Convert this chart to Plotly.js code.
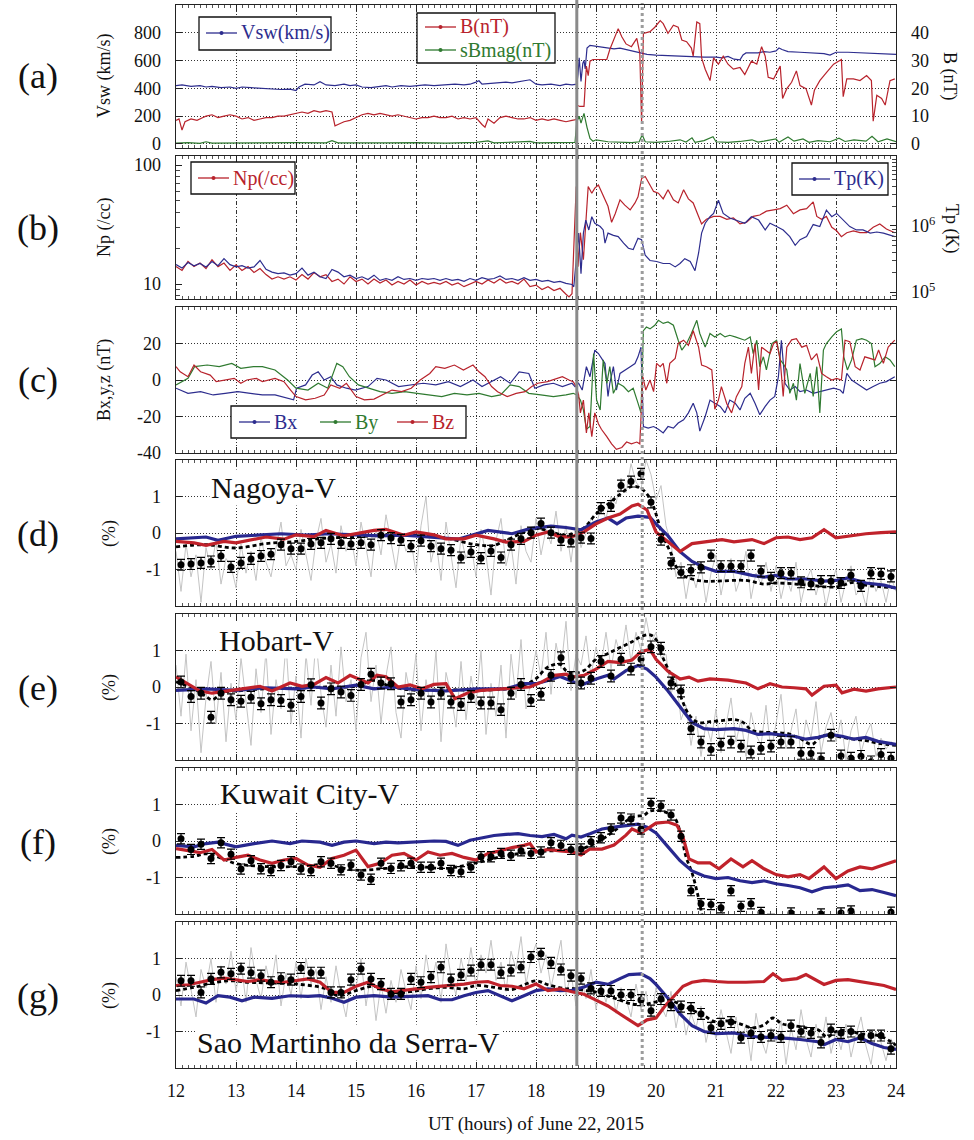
<!DOCTYPE html>
<html><head><meta charset="utf-8">
<script src="https://cdn.plot.ly/plotly-3.0.1.min.js"></script>
<style>html,body{margin:0;padding:0;background:#fff}#chart{width:974px;height:1140px}</style>
</head><body><div id="chart"></div>
<script>
// ---------------- DATA ----------------
const HOURS = [12,13,14,15,16,17,18,19,20,21,22,23,24];
const HOUR_LABELS = ['12','13','14','15','16','17','18','19','20','21','22','23','24'];
const shockTime = 18.68, secondTime = 19.77;

// Panel (a) solar wind speed (km/s), |B| (nT), sBmag (nT)
const vsw = [[12.0,420],[12.1,425],[12.25,415],[12.4,420],[12.5,410],[12.6,415],[12.75,405],[12.9,410],[13.0,400],[13.1,410],[13.25,405],[13.4,400],[13.5,402],[13.6,395],[13.75,392],[13.9,395],[14.0,385],[14.05,410],[14.15,430],[14.3,425],[14.4,448],[14.5,425],[14.65,420],[14.8,430],[14.9,420],[15.0,425],[15.1,410],[15.25,405],[15.4,415],[15.5,420],[15.6,410],[15.75,420],[15.9,415],[16.0,420],[16.15,425],[16.3,420],[16.5,425],[16.65,430],[16.8,425],[16.9,430],[17.0,445],[17.05,455],[17.1,430],[17.25,435],[17.4,440],[17.5,445],[17.6,440],[17.75,450],[17.9,462],[18.0,430],[18.1,425],[18.25,430],[18.4,420],[18.5,430],[18.6,425],[18.68,430],[18.7,500],[18.72,620],[18.75,450],[18.78,580],[18.8,600],[18.82,540],[18.85,690],[18.9,710],[19.0,705],[19.1,700],[19.2,690],[19.3,685],[19.4,690],[19.5,680],[19.6,675],[19.7,665],[19.75,655],[19.85,645],[20.0,640],[20.2,635],[20.4,632],[20.6,628],[20.8,625],[21.0,625],[21.1,620],[21.2,630],[21.3,610],[21.4,605],[21.45,640],[21.5,655],[21.7,655],[21.8,665],[21.9,660],[22.0,670],[22.05,690],[22.1,680],[22.2,665],[22.4,660],[22.6,655],[22.8,650],[22.9,640],[23.0,660],[23.2,660],[23.4,655],[23.6,650],[23.8,645],[24.0,645]];
const bMag = [[12.0,8.5],[12.05,9],[12.1,5],[12.15,8],[12.25,9],[12.35,8.5],[12.45,9.5],[12.5,10],[12.6,10.5],[12.7,9.5],[12.8,10],[12.9,10.5],[13.0,10],[13.1,9],[13.2,9.5],[13.3,8.5],[13.4,9],[13.5,9.5],[13.6,9.5],[13.7,10],[13.8,10],[13.9,10.5],[14.0,11],[14.1,11.5],[14.2,11],[14.3,12],[14.4,11.5],[14.5,12],[14.6,11.5],[14.65,6.5],[14.7,7],[14.8,8],[14.9,8.5],[15.0,9.5],[15.1,10.5],[15.2,11],[15.3,10.5],[15.4,11],[15.5,10.5],[15.6,10],[15.7,10.5],[15.8,10],[15.9,9.5],[16.0,9],[16.1,9.5],[16.2,9.5],[16.3,10],[16.4,9.5],[16.5,9.5],[16.6,10],[16.7,9],[16.8,9.5],[16.9,9],[17.0,9.5],[17.1,7],[17.15,6],[17.2,9],[17.3,7.5],[17.4,9.5],[17.5,10],[17.6,9.5],[17.7,9],[17.8,9],[17.9,9.5],[18.0,8.5],[18.1,9],[18.2,8.5],[18.3,9],[18.4,8.5],[18.5,8],[18.6,8.5],[18.67,8.8],[18.68,14],[18.73,13.5],[18.8,13.5],[18.84,28],[18.87,24.6],[18.9,29.8],[18.95,30.4],[19.05,30.5],[19.18,30.4],[19.23,34],[19.37,41.5],[19.43,38.6],[19.5,36],[19.59,35],[19.68,38],[19.73,32.7],[19.76,7.6],[19.79,39.8],[19.9,40.4],[19.98,42],[20.07,44.4],[20.12,43.3],[20.2,39.8],[20.29,42.7],[20.37,42],[20.43,37.4],[20.51,36.8],[20.59,34.5],[20.62,31.6],[20.68,43.9],[20.73,43.3],[20.76,31],[20.82,26.9],[20.9,22.8],[20.96,31],[21.04,28.7],[21.12,31.6],[21.2,28.7],[21.29,26.9],[21.4,27.5],[21.48,25],[21.59,29.8],[21.68,28.7],[21.76,35],[21.82,31.6],[21.87,24],[21.96,23.4],[22.07,28],[22.11,16.4],[22.18,19.9],[22.26,22.2],[22.34,26.3],[22.4,21],[22.5,19.9],[22.59,14],[22.64,19.3],[22.73,22.8],[22.84,25.7],[22.96,28.7],[23.09,30.4],[23.12,17],[23.18,23.4],[23.29,23.4],[23.4,22.8],[23.51,24.6],[23.59,22.8],[23.62,8.2],[23.68,17.5],[23.76,16.4],[23.82,14],[23.9,22.8],[23.98,23.4]];
const sBmag = [[12.0,0.3],[12.2,0.5],[12.4,0.2],[12.5,0.8],[12.6,0.3],[13.0,0.4],[13.5,0.3],[14.0,0.5],[14.5,0.4],[14.6,1.2],[14.7,0.4],[15.0,0.5],[15.5,0.4],[16.0,0.5],[16.5,0.3],[17.0,0.6],[17.2,1.1],[17.3,0.4],[17.5,0.5],[17.9,0.9],[18.0,0.4],[18.5,0.5],[18.65,0.6],[18.68,8],[18.72,10],[18.75,7.5],[18.8,11],[18.85,6],[18.9,2],[18.95,1.0],[19.0,1.5],[19.2,0.8],[19.4,0.6],[19.6,0.5],[19.72,0.8],[19.77,3.3],[19.82,0.8],[20.0,0.6],[20.2,0.9],[20.4,1.5],[20.5,0.7],[20.6,2.2],[20.65,0.6],[20.8,1.2],[20.95,2.6],[21.0,0.8],[21.2,0.6],[21.4,0.9],[21.6,1.5],[21.7,0.7],[21.8,1.0],[22.0,1.8],[22.05,0.6],[22.2,2.5],[22.3,1.0],[22.45,1.8],[22.55,0.6],[22.7,1.2],[22.9,0.8],[23.05,2.1],[23.15,0.9],[23.3,1.5],[23.5,1.0],[23.6,2.8],[23.7,0.8],[23.85,1.8],[24.0,0.8]];

// Panel (b) proton density (/cc) and temperature (K)
const np = [[12.0,14],[12.1,13],[12.2,15.5],[12.3,14],[12.4,15],[12.5,13.5],[12.6,16],[12.7,14],[12.8,15],[12.9,13],[13.0,14.5],[13.1,13],[13.2,14],[13.3,12.5],[13.4,13.5],[13.5,12],[13.6,11],[13.7,11.5],[13.8,11],[13.9,11.5],[14.0,10.8],[14.1,12],[14.2,11],[14.3,12.5],[14.4,11.5],[14.5,12],[14.6,10.5],[14.7,11],[14.8,10],[14.9,11.5],[15.0,10.5],[15.1,11],[15.2,10],[15.3,11],[15.4,10.2],[15.5,10.8],[15.6,9.8],[15.7,10.5],[15.8,10],[15.9,10.8],[16.0,9.8],[16.1,10.5],[16.2,10],[16.3,10.3],[16.4,10],[16.5,10.5],[16.6,9.8],[16.7,10.2],[16.8,9.5],[16.9,10],[17.0,10.5],[17.1,10],[17.2,10.8],[17.3,10.2],[17.4,11],[17.5,10.2],[17.6,10.5],[17.7,10],[17.8,11],[17.9,9.5],[18.0,9.8],[18.1,9],[18.2,9.5],[18.3,8.8],[18.4,9.2],[18.5,8.2],[18.55,7.8],[18.6,8.3],[18.65,32],[18.67,66],[18.7,14],[18.74,27],[18.79,16],[18.82,30],[18.87,66],[18.93,58],[18.98,64],[19.04,68],[19.09,60],[19.15,51],[19.2,45],[19.26,33],[19.32,39],[19.4,51],[19.48,46],[19.57,42],[19.65,48],[19.7,54],[19.76,77],[19.82,80],[19.87,72],[19.96,60],[20.04,58],[20.12,52],[20.2,62],[20.29,51],[20.37,48],[20.46,62],[20.54,52],[20.62,48],[20.71,37],[20.76,32],[20.84,35],[20.96,37],[21.07,37],[21.18,35],[21.29,36],[21.4,32],[21.51,33],[21.62,37],[21.73,38],[21.84,41],[21.96,42],[22.07,43],[22.18,46],[22.29,39],[22.4,42],[22.51,43],[22.62,49],[22.68,37],[22.76,35],[22.84,37],[22.93,30],[23.01,28],[23.09,25],[23.18,27],[23.29,28],[23.4,27],[23.51,27],[23.62,30],[23.73,32],[23.84,29],[23.98,27]];
const tp = [[12.0,2.6e5],[12.1,2.3e5],[12.2,2.8e5],[12.3,2.5e5],[12.4,2.7e5],[12.5,2.4e5],[12.6,2.9e5],[12.7,2.5e5],[12.8,3.2e5],[12.9,2.6e5],[13.0,2.4e5],[13.1,2.5e5],[13.2,2.3e5],[13.3,2.4e5],[13.4,3.0e5],[13.5,2.2e5],[13.6,2.0e5],[13.7,1.9e5],[13.8,1.95e5],[13.9,1.8e5],[14.0,1.9e5],[14.1,2.3e5],[14.2,1.8e5],[14.3,2.0e5],[14.4,1.7e5],[14.5,1.6e5],[14.6,2.2e5],[14.7,2.0e5],[14.8,1.7e5],[14.9,1.8e5],[15.0,1.6e5],[15.1,1.7e5],[15.2,1.55e5],[15.3,1.8e5],[15.4,1.5e5],[15.5,1.6e5],[15.6,1.5e5],[15.7,1.7e5],[15.8,1.55e5],[15.9,1.6e5],[16.0,1.5e5],[16.1,1.6e5],[16.2,1.55e5],[16.3,1.6e5],[16.4,1.5e5],[16.5,1.6e5],[16.6,1.5e5],[16.7,1.55e5],[16.8,1.45e5],[16.9,1.6e5],[17.0,1.5e5],[17.1,1.65e5],[17.2,1.55e5],[17.3,1.6e5],[17.4,1.75e5],[17.5,1.55e5],[17.6,1.6e5],[17.7,1.5e5],[17.8,1.65e5],[17.9,1.5e5],[18.0,1.55e5],[18.1,1.45e5],[18.2,1.5e5],[18.3,1.4e5],[18.4,1.45e5],[18.5,1.35e5],[18.6,1.3e5],[18.63,1.2e5],[18.67,3.0e5],[18.71,7.8e5],[18.75,1.9e5],[18.79,7.8e5],[18.83,1.23e6],[18.88,8.7e5],[18.93,1.38e6],[18.98,1.1e6],[19.07,9.8e5],[19.12,8.7e5],[19.15,5.5e5],[19.2,7.8e5],[19.29,7.2e5],[19.37,6.9e5],[19.46,5.5e5],[19.54,4.6e5],[19.62,4.4e5],[19.7,6.5e5],[19.76,6.2e5],[19.82,3.6e5],[19.9,3.0e5],[20.01,2.9e5],[20.12,2.7e5],[20.23,2.7e5],[20.32,2.4e5],[20.4,2.7e5],[20.48,3.2e5],[20.57,2.9e5],[20.65,2.1e5],[20.71,3.9e5],[20.76,7.8e5],[20.82,1.1e6],[20.9,1.38e6],[20.96,1.55e6],[21.04,2.45e6],[21.12,1.55e6],[21.23,1.32e6],[21.34,1.23e6],[21.48,1.1e6],[21.59,1.38e6],[21.71,1.23e6],[21.82,8.7e5],[21.9,1.1e6],[22.01,9.8e5],[22.12,8.7e5],[22.23,6.9e5],[22.32,5.1e5],[22.4,6.2e5],[22.51,6.9e5],[22.62,1.05e6],[22.73,9.8e5],[22.84,1.74e6],[22.93,1.38e6],[23.01,1.55e6],[23.12,1.23e6],[23.23,9.8e5],[23.34,8.7e5],[23.45,8.7e5],[23.57,7.8e5],[23.68,8.1e5],[23.79,7.8e5],[23.9,7.2e5],[23.98,6.9e5]];

// Panel (c) IMF components (nT)
const bx = [[12.0,-4.5],[12.2,-7.3],[12.41,-6.4],[12.62,-8.2],[12.82,-7.3],[13.03,-6.4],[13.24,-7.3],[13.44,-8.2],[13.65,-8.2],[13.86,-10],[13.96,-10.9],[14.01,-4.5],[14.16,-2.7],[14.27,2.7],[14.37,4.5],[14.47,0],[14.58,1.8],[14.68,-2.7],[14.84,-4.5],[14.99,-5.5],[15.2,-3.6],[15.35,0.9],[15.5,0],[15.71,-3.6],[15.92,-2.7],[16.12,-1.8],[16.33,-2.7],[16.54,-0.9],[16.74,-3.6],[16.95,0],[17.1,-3.6],[17.26,-0.9],[17.41,1.8],[17.57,-1.8],[17.72,4.5],[17.88,3.6],[17.98,-4.5],[18.13,-2.7],[18.29,-1.8],[18.44,-3.6],[18.6,-1.8],[18.65,-3.6],[18.71,-1.8],[18.77,-5.5],[18.84,7.3],[18.9,1.8],[18.98,16.4],[19.04,14.5],[19.09,11.8],[19.15,9],[19.2,-9],[19.23,-1.8],[19.29,7.3],[19.34,-5.5],[19.4,3.6],[19.48,5.5],[19.57,7.3],[19.65,9],[19.7,12.7],[19.75,18],[19.79,-25.5],[19.87,-26.4],[19.96,-25.5],[20.04,-27],[20.12,-29],[20.2,-25.5],[20.29,-26.4],[20.37,-23.6],[20.46,-21.8],[20.54,-18],[20.62,-12.7],[20.68,-18],[20.73,-28],[20.82,-20],[20.9,-11],[20.98,-12.7],[21.07,-14.5],[21.15,-18],[21.23,-11],[21.32,-12.7],[21.4,-16.4],[21.48,-10],[21.57,-7.3],[21.65,-12.7],[21.73,-19],[21.82,-14.5],[21.9,-11],[21.98,-9],[22.04,1.8],[22.09,21.8],[22.15,-1.8],[22.23,-5.5],[22.32,-3.6],[22.4,-6.4],[22.51,-5.5],[22.62,-7.3],[22.73,-6.4],[22.84,-5.5],[22.96,-4.5],[23.07,-5.5],[23.12,-7.3],[23.18,3.6],[23.26,0],[23.34,-1.8],[23.43,-3.6],[23.51,-5.5],[23.62,-3.6],[23.73,-1.8],[23.84,-0.9],[23.98,1.8]];
const by = [[12.0,-2.7],[12.2,0.9],[12.31,7.3],[12.52,8.2],[12.72,7.3],[12.93,9.1],[13.08,6.4],[13.29,7.3],[13.44,7.3],[13.65,5.5],[13.86,0],[14.0,-4.5],[14.2,-5.5],[14.37,-1.8],[14.53,-4.5],[14.68,9.1],[14.78,7.3],[14.89,1.8],[15.04,-2.7],[15.2,-4.5],[15.4,-6.4],[15.6,-7.3],[15.81,-6.4],[16.02,-7.3],[16.23,-8.2],[16.43,-9.1],[16.64,-7.3],[16.85,-8.2],[17.05,-7.3],[17.26,-9.1],[17.41,-8.2],[17.57,-2.7],[17.72,-3.6],[17.88,-7.3],[18.08,-8.2],[18.29,-9.1],[18.5,-8.2],[18.62,-7.3],[18.68,-8.2],[18.74,-11],[18.79,-16.4],[18.84,-27],[18.9,-25.5],[18.96,14.5],[19.01,-11],[19.07,-16.4],[19.12,11],[19.18,-1.8],[19.23,7.3],[19.29,-7.3],[19.37,-1.8],[19.46,-3.6],[19.54,-6.4],[19.62,-4.5],[19.7,-12.7],[19.75,-18],[19.79,27],[19.84,29],[19.9,28],[19.98,30],[20.04,32.7],[20.12,31],[20.2,31.8],[20.29,30],[20.37,21.8],[20.43,16.4],[20.51,20],[20.59,25.5],[20.68,32.7],[20.73,25.5],[20.82,18],[20.9,25.5],[20.98,23.6],[21.07,25.5],[21.15,23.6],[21.23,24.5],[21.32,23.6],[21.4,22.7],[21.48,21.8],[21.57,23.6],[21.62,14.5],[21.68,21.8],[21.73,7.3],[21.79,12.7],[21.84,5.5],[21.93,20],[22.01,21.8],[22.07,11],[22.12,9],[22.18,5.5],[22.23,-7.3],[22.29,-1.8],[22.34,-11],[22.4,9],[22.48,-7.3],[22.57,3.6],[22.62,-9],[22.68,7.3],[22.73,-18],[22.79,16.4],[22.84,20],[22.93,23.6],[23.01,26.4],[23.09,28],[23.13,12.7],[23.19,5.5],[23.26,11],[23.34,21.8],[23.43,22.7],[23.51,21.8],[23.59,20],[23.65,7.3],[23.73,9],[23.82,12.7],[23.9,11],[23.98,7.3]];
const bz = [[12.0,7.3],[12.07,4.5],[12.2,1.8],[12.3,8.2],[12.41,4.5],[12.57,2.7],[12.67,-0.9],[12.82,0],[12.97,0.9],[13.08,-1.8],[13.18,0],[13.34,0.9],[13.44,-0.9],[13.65,0.9],[13.8,-0.9],[13.91,-5.5],[14.0,-9.1],[14.16,-10.9],[14.32,-10],[14.47,-8.2],[14.58,-2.7],[14.73,-4.5],[14.84,-1.8],[15.0,-9.1],[15.14,-10.9],[15.3,-10.5],[15.45,-8.2],[15.6,-5.5],[15.76,-6.4],[15.92,-4.5],[16.07,0],[16.23,3.6],[16.33,7.3],[16.48,6.4],[16.64,8.2],[16.79,5.5],[16.95,8.2],[17.05,4.5],[17.15,1.8],[17.26,-3.6],[17.36,-6.4],[17.52,-9.1],[17.67,-7.3],[17.82,-6.4],[17.93,-3.6],[18.03,-1.8],[18.19,-0.9],[18.34,0.9],[18.44,1.8],[18.55,0],[18.62,-0.9],[18.67,-3.6],[18.71,-8.2],[18.74,-18],[18.79,-11],[18.84,-29],[18.88,-18],[18.93,-31],[18.98,-18],[19.04,-24],[19.09,-27],[19.18,-31],[19.26,-35],[19.34,-38],[19.43,-37],[19.51,-34],[19.59,-35],[19.68,-34],[19.73,-35],[19.78,1.8],[19.83,-5.5],[19.9,0],[19.96,-6.4],[20.01,9.1],[20.07,7.3],[20.12,9.1],[20.18,-1.8],[20.23,9.1],[20.32,11.8],[20.37,20],[20.46,21.8],[20.54,19],[20.62,27],[20.71,18],[20.76,8.2],[20.84,7.3],[20.93,5.5],[20.98,-16],[21.04,-11],[21.09,-3.6],[21.18,-13],[21.26,-18],[21.34,-9.1],[21.43,-3.6],[21.48,9.1],[21.54,18],[21.59,3.6],[21.65,20],[21.71,-5.5],[21.76,18],[21.82,16.4],[21.9,14.5],[21.96,20],[22.01,21],[22.07,11],[22.12,-9],[22.18,18],[22.26,22],[22.34,22.7],[22.43,18],[22.51,19],[22.59,11],[22.68,14.5],[22.76,3.6],[22.84,1.8],[22.93,0],[23.01,0.9],[23.09,0],[23.15,21.8],[23.23,21],[23.32,7.3],[23.4,5.5],[23.48,12.7],[23.57,11.8],[23.65,11],[23.71,16.4],[23.79,9.1],[23.87,18],[23.98,21.8]];

// Panels (d)-(g): observed 10-min points (%), 5-min raw (gray), fitted (dashed), model lines (red, blue)
const nagoyaObs = [-0.87,-0.85,-0.82,-0.78,-0.63,-0.93,-0.82,-0.71,-0.63,-0.58,-0.32,-0.43,-0.43,-0.30,-0.27,-0.16,-0.27,-0.30,-0.27,-0.32,-0.06,-0.14,-0.19,-0.36,-0.21,-0.36,-0.43,-0.47,-0.67,-0.52,-0.69,-0.49,-0.67,-0.32,-0.16,0.01,0.26,0.01,-0.19,-0.23,-0.13,-0.15,0.68,0.74,1.30,1.41,1.62,0.84,-0.18,-0.83,-1.08,-1.02,-0.94,-0.62,-0.91,-0.91,-0.91,-0.62,-1.05,-1.23,-1.10,-1.10,-1.35,-1.40,-1.32,-1.32,-1.37,-1.16,-1.45,-1.10,-1.12,-1.19];
const hobartObs = [0.14,-0.26,-0.17,-0.83,-0.17,-0.35,-0.39,-0.28,-0.46,-0.35,-0.37,-0.50,-0.26,0.06,-0.44,-0.05,-0.14,-0.23,0.07,0.35,0.11,0.09,-0.41,-0.35,-0.17,-0.41,-0.17,-0.41,-0.48,-0.26,-0.44,-0.44,-0.62,-0.17,0.07,-0.37,-0.2,0.32,0.8,0.26,0.11,0.24,0.70,0.30,0.76,0.49,0.76,1.10,1.06,0.11,-0.11,-1.14,-1.51,-1.71,-1.57,-1.51,-1.62,-1.78,-1.68,-1.62,-1.51,-1.51,-1.82,-1.82,-1.97,-1.32,-1.89,-1.95,-1.9,-2.05,-1.85,-1.95];
const kuwaitObs = [0.06,-0.23,-0.09,-0.48,-0.05,-0.36,-0.77,-0.54,-0.76,-0.81,-0.67,-0.57,-0.77,-0.81,-0.57,-0.61,-0.79,-0.66,-0.93,-1.05,-0.61,-0.75,-0.68,-0.61,-0.72,-0.72,-0.61,-0.81,-0.84,-0.72,-0.43,-0.43,-0.34,-0.39,-0.27,-0.34,-0.3,-0.05,-0.12,-0.23,-0.22,-0.02,0.09,0.33,0.63,0.60,0.33,1.03,0.96,0.71,0.13,-1.36,-1.72,-1.74,-1.83,-1.36,-1.79,-1.72,-1.96,-2.15,-2.2,-1.97,-2.3,-2.2,-2.0,-2.25,-1.97,-1.92,-2.3,-2.2,-2.25,-1.95];
const saoObs = [0.39,0.39,0.07,0.44,0.62,0.58,0.72,0.61,0.53,0.35,0.46,0.42,0.74,0.61,0.61,0.07,0.07,0.42,0.72,0.44,0.30,0.03,0.03,0.44,0.35,0.49,0.76,0.42,0.55,0.67,0.83,0.83,0.61,0.67,0.76,1.04,1.13,0.88,0.70,0.53,0.45,0.18,0.11,0.11,0.0,0.0,-0.14,-0.43,-0.11,-0.28,-0.32,-0.36,-0.52,-0.9,-0.79,-0.74,-1.17,-1.04,-1.15,-1.11,-1.15,-0.84,-1.0,-1.04,-1.3,-0.95,-1.04,-1.0,-1.15,-1.11,-1.11,-1.47];
const obsErr = {nagoya:0.15, hobart:0.16, kuwait:0.14, sao:0.15};

const nagoyaRaw = [-0.5,-1.6,-0.3,-1.2,-0.6,-1.9,-0.4,-1.0,-0.2,-1.4,-0.7,-0.9,
-1.5,-0.3,-1.1,-0.5,-1.3,-0.1,-0.8,-1.2,-0.4,0.3,-0.9,-0.6,
-1.0,0.1,-0.6,-1.3,-0.2,0.4,-0.8,-0.3,-1.1,0.2,-0.5,-0.1,
-0.9,0.3,-0.4,-1.2,0.1,-0.6,0.5,-0.3,-1.0,0.0,-0.5,-0.2,
-1.1,0.2,1.0,-0.8,-0.2,-1.3,0.3,-0.6,-1.5,-0.1,-0.7,-0.3,
-1.2,0.1,-0.6,-1.7,-0.2,0.4,-0.9,-0.3,-1.4,0.2,-0.5,-0.8,
0.4,-0.6,0.1,-0.3,0.6,-0.5,0.2,-0.8,0.3,-0.4,0.0,0.4,
0.2,0.7,0.4,1.0,0.8,1.5,1.1,1.9,1.4,1.2,2.0,1.6,
0.9,1.3,0.2,-0.3,-1.2,-0.8,-1.8,-1.0,-1.5,-0.9,-1.9,-1.1,
-0.6,-1.7,-1.0,-0.7,-1.6,-1.2,-0.5,-1.8,-1.1,-1.4,-0.8,-1.6,
-0.9,-1.8,-1.2,-1.6,-0.8,-1.9,-1.3,-1.0,-1.7,-1.2,-2.0,-1.4,
-1.0,-1.9,-1.3,-0.9,-1.7,-1.5,-2.0,-1.1,-1.6,-1.3,-1.9,-1.2,-1.6];
const hobartRaw = [0.6,-0.8,0.9,-1.2,0.2,-1.8,-0.3,0.7,-1.0,0.4,-1.5,0.1,
-0.9,0.8,-0.4,-1.6,0.5,-0.7,1.0,-1.3,0.2,-0.6,1.2,-1.0,
0.3,-1.4,0.9,-0.5,1.3,-0.2,-1.1,0.6,-0.8,1.1,-0.4,0.2,
-1.2,0.8,1.5,-0.4,0.6,-1.0,0.3,1.1,-0.7,-1.4,0.4,-0.3,
0.9,-1.2,0.2,-0.6,1.0,-1.5,0.4,-0.2,-1.1,0.7,-0.9,0.3,
-0.5,1.0,-1.3,0.1,-0.8,0.6,-1.4,0.9,-0.3,1.3,-0.6,0.2,
1.0,0.3,1.5,-0.2,1.2,0.5,1.8,-0.1,0.9,0.6,1.4,0.3,
1.1,0.6,1.5,0.5,1.3,0.8,1.7,0.7,1.5,1.0,1.9,1.2,
1.5,0.8,0.9,-0.2,0.3,-0.9,-0.5,-1.6,-0.8,-1.9,-1.0,-1.5,
-0.6,-1.8,-1.1,-0.3,-1.5,-0.9,-1.9,-0.7,-1.3,-1.6,-0.5,-1.8,
-1.0,-0.2,-1.7,-1.2,-0.6,-1.9,-0.9,-1.4,-0.4,-1.8,-1.1,-0.7,
-1.5,-0.9,-2.0,-1.2,-0.8,-1.8,-1.3,-1.0,-1.9,-1.4,-1.7,-1.5,-1.6];
const saoRaw = [0.5,-0.3,0.9,0.1,-0.6,0.7,0.2,1.0,-0.2,0.8,0.3,1.2,
0.1,0.9,-0.2,1.3,0.4,-0.1,0.8,0.2,1.1,-0.3,0.6,0.0,
0.9,-0.1,1.0,0.3,0.7,-0.4,0.5,-0.2,0.8,0.0,-0.6,0.4,
0.2,1.0,-0.3,0.6,-0.7,0.3,-0.5,0.4,-0.2,0.7,0.1,-0.4,
0.8,-0.1,1.1,0.3,0.9,-0.2,1.4,0.5,0.0,1.0,0.4,1.3,
0.2,1.1,0.6,1.5,0.4,0.9,0.1,1.2,0.7,1.6,0.3,1.0,
1.4,0.6,1.1,0.2,0.9,1.5,0.0,0.6,-0.3,0.5,-0.1,0.7,
-0.4,0.3,-0.2,0.4,-0.5,0.2,-0.1,-0.6,0.3,-0.4,0.1,-0.7,
0.2,-0.3,-0.6,0.1,-0.9,-0.2,-1.1,-0.5,-0.9,-0.3,-1.3,-0.7,
-1.2,-0.4,-1.0,-1.6,-0.6,-1.3,-0.8,-1.8,-0.5,-1.2,-1.6,-0.9,
-1.3,-0.7,-1.9,-0.9,-1.5,-0.4,-1.2,-1.7,-0.8,-1.4,-0.6,-1.6,
-1.0,-1.5,-0.8,-1.7,-1.1,-0.6,-1.4,-1.9,-1.0,-1.3,-1.8,-1.2,-1.5];

const nagoyaFit = [[12.0,-0.38],[12.5,-0.32],[13.0,-0.41],[13.5,-0.29],[14.0,-0.23],[14.5,-0.14],[15.0,-0.11],[15.5,-0.05],[16.0,-0.06],[16.5,-0.14],[17.0,-0.32],[17.3,-0.34],[17.5,-0.2],[18.0,0.12],[18.3,0.0],[18.5,-0.06],[18.6,-0.02],[18.8,0.14],[19.0,0.52],[19.2,0.79],[19.4,1.06],[19.6,1.28],[19.75,1.22],[19.9,0.95],[20.0,0.52],[20.1,-0.02],[20.25,-0.56],[20.4,-1.1],[20.6,-1.26],[20.8,-1.32],[21.0,-1.32],[21.5,-1.3],[21.8,-1.4],[22.0,-1.37],[22.5,-1.42],[23.0,-1.48],[23.3,-1.35],[23.5,-1.43],[24.0,-1.5]];
const nagoyaRed = [[12.0,-0.23],[12.3,-0.27],[12.5,-0.34],[12.8,-0.23],[13.0,-0.27],[13.3,-0.17],[13.5,-0.11],[13.8,-0.17],[14.0,-0.05],[14.3,-0.1],[14.5,0.07],[14.8,-0.08],[15.0,-0.02],[15.3,0.07],[15.5,0.1],[15.8,-0.06],[16.0,0.03],[16.3,-0.05],[16.5,-0.16],[16.8,-0.16],[17.0,-0.06],[17.3,-0.16],[17.5,-0.25],[17.8,-0.23],[18.0,-0.06],[18.2,0.03],[18.4,-0.11],[18.6,-0.1],[18.8,0.03],[19.0,0.25],[19.2,0.41],[19.4,0.52],[19.6,0.74],[19.7,0.79],[19.85,0.63],[20.0,0.03],[20.2,-0.24],[20.4,-0.51],[20.6,-0.29],[20.8,-0.24],[21.1,-0.18],[21.3,-0.24],[21.6,-0.18],[21.8,-0.29],[22.0,-0.13],[22.2,-0.11],[22.4,-0.18],[22.6,-0.13],[22.8,0.09],[23.0,-0.13],[23.2,-0.08],[23.5,-0.02],[23.75,0.01],[24.0,0.03]];
const nagoyaBlue = [[12.0,-0.16],[12.5,-0.11],[12.7,-0.2],[13.0,-0.09],[13.35,-0.06],[13.75,-0.02],[14.15,-0.06],[14.55,-0.02],[15.0,-0.05],[15.4,-0.08],[15.8,-0.06],[16.3,-0.11],[16.7,-0.17],[17.2,0.07],[17.6,-0.02],[17.9,0.12],[18.25,0.19],[18.5,0.15],[18.75,0.09],[19.0,0.3],[19.2,0.41],[19.35,0.25],[19.5,0.41],[19.7,0.46],[19.9,0.43],[20.0,0.25],[20.2,-0.08],[20.4,-0.51],[20.6,-0.78],[20.8,-0.94],[21.0,-1.05],[21.3,-1.05],[21.6,-1.16],[21.8,-1.21],[22.0,-1.16],[22.2,-1.26],[22.5,-1.26],[22.8,-1.32],[23.0,-1.3],[23.2,-1.23],[23.5,-1.37],[23.8,-1.43],[24.0,-1.51]];

const hobartFit = [[12.0,0.14],[12.3,-0.05],[12.5,-0.26],[12.6,-0.35],[12.8,-0.14],[13.0,-0.11],[13.5,-0.05],[14.0,-0.03],[14.5,0.0],[15.0,0.02],[15.3,0.18],[15.6,0.0],[16.0,-0.09],[16.5,-0.07],[17.0,-0.09],[17.5,-0.05],[17.8,0.05],[18.0,0.23],[18.2,0.55],[18.4,0.62],[18.5,0.45],[18.6,0.38],[18.8,0.45],[19.0,0.76],[19.2,0.92],[19.4,1.08],[19.6,1.24],[19.75,1.38],[19.9,1.43],[20.0,1.3],[20.1,0.86],[20.25,0.32],[20.4,-0.22],[20.55,-0.76],[20.7,-0.97],[20.9,-0.95],[21.1,-0.92],[21.3,-0.89],[21.45,-0.97],[21.6,-1.19],[21.8,-1.24],[22.0,-1.25],[22.2,-1.28],[22.4,-1.41],[22.6,-1.57],[22.75,-1.35],[22.9,-1.32],[23.1,-1.38],[23.3,-1.43],[23.5,-1.47],[23.7,-1.54],[24.0,-1.6]];
const hobartRed = [[12.0,0.28],[12.2,0.09],[12.4,-0.11],[12.6,-0.17],[12.9,-0.11],[13.1,-0.05],[13.4,0.02],[13.6,-0.11],[13.9,0.11],[14.1,0.02],[14.3,0.07],[14.5,0.26],[14.7,0.11],[14.9,0.32],[15.2,0.11],[15.35,0.32],[15.5,0.28],[15.7,0.0],[15.9,0.06],[16.1,-0.05],[16.3,0.07],[16.5,0.09],[16.65,-0.32],[16.85,-0.17],[17.1,-0.09],[17.4,-0.05],[17.7,-0.02],[17.9,0.0],[18.1,0.14],[18.3,0.32],[18.5,0.35],[18.6,0.27],[18.8,0.32],[19.0,0.49],[19.2,0.70],[19.4,0.67],[19.6,0.74],[19.75,0.97],[19.9,1.03],[20.0,0.76],[20.2,0.43],[20.4,0.22],[20.55,0.27],[20.7,0.16],[20.9,0.22],[21.2,0.19],[21.5,0.11],[21.7,-0.05],[21.9,0.09],[22.1,0.0],[22.3,-0.02],[22.5,-0.05],[22.6,-0.22],[22.8,0.02],[23.0,0.05],[23.1,-0.16],[23.3,-0.06],[23.5,-0.11],[23.7,-0.05],[24.0,0.0]];
const hobartBlue = [[12.0,-0.09],[12.5,-0.05],[13.0,-0.09],[13.5,-0.02],[14.0,-0.05],[14.3,0.0],[14.6,-0.05],[15.0,0.05],[15.3,-0.05],[15.6,0.0],[16.0,-0.07],[16.5,-0.11],[17.0,-0.05],[17.5,-0.05],[17.8,0.09],[18.0,0.09],[18.2,0.18],[18.4,0.29],[18.6,0.16],[18.75,0.05],[19.0,0.22],[19.2,0.32],[19.3,0.22],[19.5,0.45],[19.7,0.59],[19.85,0.49],[20.0,0.27],[20.2,-0.11],[20.4,-0.54],[20.6,-0.97],[20.8,-1.14],[21.0,-1.17],[21.3,-1.14],[21.5,-1.19],[21.7,-1.3],[21.9,-1.28],[22.1,-1.32],[22.3,-1.35],[22.5,-1.43],[22.7,-1.38],[22.9,-1.3],[23.1,-1.35],[23.3,-1.43],[23.5,-1.38],[23.7,-1.49],[24.0,-1.57]];

const kuwaitFit = [[12.0,-0.45],[12.3,-0.42],[12.5,-0.35],[12.8,-0.5],[13.0,-0.62],[13.5,-0.7],[14.0,-0.7],[14.5,-0.65],[15.0,-0.8],[15.5,-0.75],[16.0,-0.7],[16.5,-0.75],[17.0,-0.6],[17.5,-0.4],[18.0,-0.3],[18.5,-0.25],[18.7,-0.24],[19.0,-0.05],[19.3,0.27],[19.6,0.65],[19.8,0.71],[19.9,0.82],[20.1,0.82],[20.3,0.65],[20.4,0.27],[20.5,-0.43],[20.6,-0.87],[20.7,-1.5],[20.8,-2.3]];
const kuwaitRed = [[12.0,-0.21],[12.2,-0.27],[12.4,-0.32],[12.6,-0.23],[12.8,-0.52],[13.0,-0.45],[13.2,-0.39],[13.4,-0.52],[13.6,-0.61],[13.8,-0.52],[14.0,-0.48],[14.2,-0.66],[14.4,-0.72],[14.6,-0.48],[14.8,-0.39],[15.0,-0.25],[15.2,-0.7],[15.4,-0.61],[15.6,-0.39],[15.8,-0.34],[16.0,-0.52],[16.2,-0.3],[16.4,-0.39],[16.6,-0.34],[16.8,-0.45],[17.0,-0.52],[17.2,-0.34],[17.4,-0.27],[17.6,-0.18],[17.8,-0.12],[17.9,-0.07],[18.0,-0.3],[18.2,-0.23],[18.4,-0.27],[18.6,-0.3],[18.75,-0.38],[18.9,-0.22],[19.1,-0.22],[19.3,-0.11],[19.5,0.16],[19.6,0.33],[19.75,0.22],[19.9,0.38],[20.0,0.49],[20.2,0.52],[20.35,0.43],[20.45,0.11],[20.55,-0.49],[20.7,-0.6],[20.9,-0.6],[21.05,-0.76],[21.25,-0.49],[21.45,-0.71],[21.6,-0.54],[21.8,-0.76],[22.0,-0.92],[22.2,-0.98],[22.4,-0.92],[22.55,-1.03],[22.8,-0.71],[23.0,-1.03],[23.2,-0.82],[23.4,-0.71],[23.6,-0.76],[23.8,-0.65],[24.0,-0.54]];
const kuwaitBlue = [[12.0,-0.12],[12.3,-0.16],[12.5,-0.07],[12.7,-0.03],[12.9,-0.12],[13.0,-0.16],[13.3,-0.07],[13.6,0.0],[13.9,-0.07],[14.1,0.0],[14.4,-0.03],[14.6,-0.12],[14.8,-0.03],[15.0,0.0],[15.3,-0.07],[15.5,-0.03],[15.7,-0.05],[16.0,-0.03],[16.3,0.0],[16.5,-0.01],[16.7,-0.12],[16.9,0.02],[17.1,0.09],[17.3,0.15],[17.5,0.18],[17.7,0.2],[17.9,0.15],[18.1,0.12],[18.3,0.18],[18.5,0.06],[18.6,0.16],[18.75,0.11],[18.9,0.2],[19.1,0.33],[19.3,0.38],[19.5,0.43],[19.7,0.46],[19.85,0.38],[20.0,0.22],[20.2,-0.16],[20.4,-0.54],[20.6,-0.82],[20.8,-0.96],[21.0,-1.03],[21.2,-1.0],[21.4,-1.09],[21.6,-1.14],[21.8,-1.09],[22.0,-1.17],[22.2,-1.22],[22.4,-1.28],[22.6,-1.39],[22.8,-1.28],[23.0,-1.25],[23.2,-1.2],[23.4,-1.36],[23.6,-1.33],[23.8,-1.41],[24.0,-1.5]];

const saoFit = [[12.0,0.12],[12.3,0.21],[12.6,0.33],[12.9,0.39],[13.2,0.35],[13.5,0.33],[14.0,0.3],[14.5,0.17],[14.7,-0.02],[15.0,0.12],[15.3,0.24],[15.6,0.07],[15.9,0.09],[16.2,0.17],[16.5,0.21],[16.8,0.17],[17.0,0.26],[17.3,0.21],[17.6,0.15],[17.8,0.28],[18.0,0.39],[18.2,0.28],[18.5,0.17],[18.6,0.18],[18.8,0.13],[19.0,0.08],[19.2,-0.03],[19.4,-0.14],[19.6,-0.25],[19.8,-0.25],[20.0,-0.19],[20.2,-0.14],[20.4,-0.25],[20.6,-0.41],[20.8,-0.57],[21.0,-0.74],[21.2,-0.71],[21.4,-0.79],[21.6,-0.9],[21.8,-0.82],[21.95,-0.63],[22.1,-0.79],[22.3,-0.84],[22.5,-0.9],[22.7,-0.95],[22.85,-1.15],[23.0,-1.0],[23.2,-0.97],[23.4,-1.06],[23.6,-1.08],[23.8,-1.17],[24.0,-1.38]];
const saoRed = [[12.0,0.26],[12.2,0.28],[12.4,0.35],[12.6,0.42],[12.8,0.46],[13.0,0.42],[13.2,0.37],[13.4,0.42],[13.6,0.37],[13.8,0.35],[14.0,0.39],[14.2,0.44],[14.4,0.35],[14.6,0.07],[14.8,0.07],[15.0,0.24],[15.2,0.35],[15.4,0.17],[15.6,0.09],[15.8,0.12],[16.0,0.17],[16.2,0.21],[16.4,0.24],[16.6,0.26],[16.8,0.3],[17.0,0.35],[17.2,0.37],[17.4,0.26],[17.6,0.24],[17.8,0.17],[18.0,0.3],[18.2,0.12],[18.4,0.17],[18.6,0.09],[18.8,0.02],[19.0,-0.14],[19.2,-0.3],[19.4,-0.52],[19.6,-0.74],[19.7,-0.84],[19.85,-0.68],[20.0,-0.63],[20.15,-0.3],[20.3,-0.03],[20.45,0.24],[20.6,0.35],[20.8,0.4],[21.0,0.37],[21.2,0.35],[21.5,0.35],[21.8,0.37],[21.95,0.58],[22.1,0.4],[22.35,0.45],[22.5,0.56],[22.8,0.29],[23.0,0.4],[23.2,0.42],[23.5,0.35],[23.8,0.26],[24.0,0.15]];
const saoBlue = [[12.0,-0.11],[12.3,-0.11],[12.5,-0.22],[12.7,-0.02],[12.9,-0.06],[13.1,-0.16],[13.3,-0.06],[13.6,-0.09],[13.9,-0.02],[14.2,-0.04],[14.4,-0.02],[14.6,-0.09],[14.8,-0.2],[15.0,-0.06],[15.3,-0.02],[15.6,-0.06],[15.9,-0.04],[16.2,-0.02],[16.4,-0.13],[16.6,-0.13],[16.8,-0.02],[17.0,0.07],[17.2,0.12],[17.4,-0.02],[17.6,-0.16],[17.8,-0.02],[18.0,0.12],[18.2,0.17],[18.4,0.12],[18.6,0.13],[18.8,0.22],[19.0,0.35],[19.2,0.29],[19.4,0.45],[19.55,0.56],[19.75,0.58],[19.9,0.45],[20.0,0.29],[20.2,-0.09],[20.4,-0.52],[20.6,-0.84],[20.8,-1.0],[21.0,-1.06],[21.3,-1.04],[21.5,-1.11],[21.7,-1.15],[22.0,-1.17],[22.2,-1.19],[22.4,-1.22],[22.7,-1.28],[22.8,-1.36],[23.0,-1.22],[23.2,-1.28],[23.4,-1.17],[23.6,-1.33],[23.8,-1.44],[24.0,-1.49]];

// ---------------- DRAWING ----------------
const W = 974, H = 1140;
const FONT = 'Liberation Serif, Times New Roman, Times, serif';
const COL = {blue:'#2d2d8e', red:'#b8232c', green:'#2f7a30', mRed:'#c0222b', mBlue:'#28288f', gray:'#c4c4c4', ink:'#111111', frame:'#222222', grid:'#333333'};
const px = x => x / W, py = y => 1 - y / H;
const X_L = 176, X_R = 896;
const P = {a:[5,148], b:[156,299], c:[307,453], d:[460,606], e:[614,760], f:[768,914], g:[922,1068]};
const dom = k => [py(P[k][1]), py(P[k][0])];
const tx = p => p.map(d => d[0]), ty = p => p.map(d => d[1]);
const grid5 = n => Array.from({length:n}, (_, i) => 12 + i / 12);
const grid10 = n => Array.from({length:n}, (_, i) => 12 + (i + 0.5) / 6);

const traces = [];
function line(pairs, xa, ya, color, width, dash, shape){
  traces.push({type:'scatter', mode:'lines', x:tx(pairs), y:ty(pairs), xaxis:xa, yaxis:ya,
    line:{color:color, width:width, dash:dash || 'solid', shape:shape || 'linear'}, hoverinfo:'skip', showlegend:false});
}
// (a)
line(vsw, 'x', 'y', COL.blue, 1.2);
line(bMag, 'x', 'y2', COL.red, 1.2);
line(sBmag, 'x', 'y2', COL.green, 1.2);
// (b)
line(np, 'x2', 'y3', COL.red, 1.2);
line(tp, 'x2', 'y4', COL.blue, 1.2);
// (c)
line(bx, 'x3', 'y5', COL.blue, 1.2);
line(by, 'x3', 'y5', COL.green, 1.2);
line(bz, 'x3', 'y5', COL.red, 1.2);
// (d)-(g)
function station(xa, ya, raw, fit, blue, red, obs, err){
  if (raw) traces.push({type:'scatter', mode:'lines', x:grid5(raw.length), y:raw, xaxis:xa, yaxis:ya,
    line:{color:COL.gray, width:1}, hoverinfo:'skip', showlegend:false});
  line(fit, xa, ya, '#000', 2.8, '4px,3px', 'spline');
  line(blue, xa, ya, COL.mBlue, 3.2);
  line(red, xa, ya, COL.mRed, 3.2);
  traces.push({type:'scatter', mode:'markers', x:grid10(obs.length), y:obs, xaxis:xa, yaxis:ya,
    marker:{color:'#000', size:7, symbol:'circle'}, error_y:{type:'constant', value:err, color:'#000', thickness:1.2, width:4},
    hoverinfo:'skip', showlegend:false});
}
station('x4', 'y6', nagoyaRaw, nagoyaFit, nagoyaBlue, nagoyaRed, nagoyaObs, obsErr.nagoya);
station('x5', 'y7', hobartRaw, hobartFit, hobartBlue, hobartRed, hobartObs, obsErr.hobart);
station('x6', 'y8', null, kuwaitFit, kuwaitBlue, kuwaitRed, kuwaitObs, obsErr.kuwait);
station('x7', 'y9', saoRaw, saoFit, saoBlue, saoRed, saoObs, obsErr.sao);

const tickFont = {family:FONT, size:18, color:COL.ink};
const GRID_DASH = '1px,2px';
function xAxis(anchor, labels, dash){
  return {domain:[px(X_L), px(X_R)], anchor:anchor, range:[12,24], tickmode:'array', tickvals:HOURS, ticktext:HOUR_LABELS,
    showticklabels:labels, ticks:'inside', ticklen:6, tickwidth:1, tickcolor:COL.frame, mirror:'ticks',
    showline:true, linecolor:COL.frame, linewidth:1.3, showgrid:true, gridcolor:COL.grid, gridwidth:1, griddash:dash || GRID_DASH,
    zeroline:false, tickfont:tickFont, ticklabelstandoff:6,
    minor:{tickmode:'linear', tick0:12, dtick:0.1, ticks:'inside', ticklen:3, tickcolor:'#555', showgrid:false}, fixedrange:true};
}
function yBase(k, anchor, extra){
  return Object.assign({domain:dom(k), anchor:anchor, ticks:'inside', ticklen:6, tickwidth:1, tickcolor:COL.frame,
    showline:true, linecolor:COL.frame, linewidth:1.3, zeroline:false, tickfont:tickFont, ticklabelstandoff:10,
    showgrid:true, gridcolor:COL.grid, gridwidth:1, griddash:GRID_DASH, fixedrange:true}, extra);
}
const pctY = k => yBase(k, null, {range:[-2,2], tickmode:'array', tickvals:[-1,0,1], ticktext:['-1','0','1'], mirror:'ticks'});

const layout = {
  width:W, height:H, autosize:false, margin:{l:0, r:0, t:0, b:0, pad:0},
  paper_bgcolor:'#fff', plot_bgcolor:'rgba(0,0,0,0)', showlegend:false, font:{family:FONT, color:COL.ink},
  xaxis:xAxis('y', false), xaxis2:xAxis('y3', false, '4px,2px,1px,2px'), xaxis3:xAxis('y5', false),
  xaxis4:xAxis('y6', false), xaxis5:xAxis('y7', false), xaxis6:xAxis('y8', false), xaxis7:xAxis('y9', true),
  yaxis:yBase('a', 'x', {range:[-29,1000], tickmode:'array', tickvals:[0,200,400,600,800]}),
  yaxis2:yBase('a', 'x', {overlaying:'y', side:'right', range:[-1.45,50], tickmode:'array', tickvals:[0,10,20,30,40], showgrid:false}),
  yaxis3:yBase('b', 'x2', {type:'log', range:[0.874,2.076], tickmode:'array', tickvals:[10,100], ticktext:['10','100'], showgrid:false,
    minor:{tickmode:'array', tickvals:[8,9,20,30,40,50,60,70,80,90], ticks:'inside', ticklen:4, tickcolor:'#444'}}),
  yaxis4:yBase('b', 'x2', {type:'log', overlaying:'y3', side:'right', range:[4.894,7.06], tickmode:'array', tickvals:[1e5,1e6],
    ticktext:['10<sup>5</sup>','10<sup>6</sup>'], showgrid:false,
    minor:{tickmode:'array', tickvals:[8e4,9e4,2e5,3e5,4e5,5e5,6e5,7e5,8e5,9e5,2e6,3e6,4e6,5e6,6e6,7e6,8e6,9e6,1e7], ticks:'inside', ticklen:4, tickcolor:'#444'}}),
  yaxis5:yBase('c', 'x3', {range:[-40,40], tickmode:'array', tickvals:[-40,-20,0,20], ticktext:['-40','-20','0','20'], mirror:'ticks'}),
  yaxis6:Object.assign(pctY('d'), {anchor:'x4'}),
  yaxis7:Object.assign(pctY('e'), {anchor:'x5'}),
  yaxis8:Object.assign(pctY('f'), {anchor:'x6'}),
  yaxis9:Object.assign(pctY('g'), {anchor:'x7'}),
  shapes:[], annotations:[]
};

const ann = (x, y, text, opts) => layout.annotations.push(Object.assign({xref:'paper', yref:'paper', x:px(x), y:py(y),
  text:text, showarrow:false, xanchor:'center', yanchor:'middle', font:{family:FONT, size:18, color:COL.ink}}, opts || {}));

// panel letters
const letterY = {a:76, b:228, c:380, d:534, e:688, f:842, g:996};
Object.keys(letterY).forEach(k => ann(38, letterY[k], '(' + k + ')', {font:{family:FONT, size:36, color:COL.ink}}));
// axis titles
ann(105, 76, 'Vsw (km/s)', {textangle:-90});
ann(949, 76, 'B (nT)', {textangle:90});
ann(105, 228, 'Np (/cc)', {textangle:-90});
ann(951, 228, 'Tp (K)', {textangle:90});
ann(105, 380, 'Bx,y,z (nT)', {textangle:-90});
['d','e','f','g'].forEach(k => ann(109, letterY[k], '(%)', {textangle:-90}));
ann(536, 1124, 'UT (hours) of June 22, 2015', {font:{family:FONT, size:19, color:COL.ink}});
// station labels
const stFont = {family:FONT, size:30, color:COL.ink};
ann(209, 487, 'Nagoya-V', {xanchor:'left', font:stFont, bgcolor:'#fff'});
ann(217, 640, 'Hobart-V', {xanchor:'left', font:stFont, bgcolor:'#fff'});
ann(218, 794, 'Kuwait City-V', {xanchor:'left', font:stFont, bgcolor:'#fff'});
ann(195, 1042, 'Sao Martinho da Serra-V', {xanchor:'left', font:stFont, bgcolor:'#fff'});

// event markers
layout.shapes.push({type:'line', xref:'x', yref:'paper', x0:shockTime, x1:shockTime, y0:py(1066), y1:py(0), line:{color:'#8a8a8a', width:3}, layer:'above'});
layout.shapes.push({type:'line', xref:'x', yref:'paper', x0:secondTime, x1:secondTime, y0:py(1066), y1:py(3), line:{color:'#9c9c9c', width:3, dash:'dot'}, layer:'above'});

// legend boxes
function legBox(x0, y0, x1, y1){
  layout.shapes.push({type:'rect', xref:'paper', yref:'paper', x0:px(x0), x1:px(x1), y0:py(y1), y1:py(y0),
    line:{color:'#111', width:1.3}, fillcolor:'#fff', layer:'above'});
}
function legItem(x, y, color, text){
  layout.shapes.push({type:'line', xref:'paper', yref:'paper', x0:px(x), x1:px(x + 31), y0:py(y), y1:py(y), line:{color:color, width:1.3}, layer:'above'});
  layout.shapes.push({type:'circle', xref:'paper', yref:'paper', x0:px(x + 13.5), x1:px(x + 17.5), y0:py(y + 2), y1:py(y - 2), fillcolor:color, line:{width:0}, layer:'above'});
  ann(x + 33, y, text, {xanchor:'left', font:{family:FONT, size:20, color:color}});
}
legBox(199, 17, 331, 50); legItem(206, 33, COL.blue, 'Vsw(km/s)');
legBox(417, 13, 555, 63); legItem(425, 27, COL.red, 'B(nT)'); legItem(425, 50, COL.green, 'sBmag(nT)');
legBox(191, 162, 295, 194); legItem(198, 178, COL.red, 'Np(/cc)');
legBox(792, 163, 888, 195); legItem(799, 179, COL.blue, 'Tp(K)');
legBox(231, 406, 466, 438); legItem(239, 422, COL.blue, 'Bx'); legItem(320, 422, COL.green, 'By'); legItem(397, 422, COL.red, 'Bz');

Plotly.newPlot('chart', traces, layout, {staticPlot:true, displayModeBar:false});
</script></body></html>
